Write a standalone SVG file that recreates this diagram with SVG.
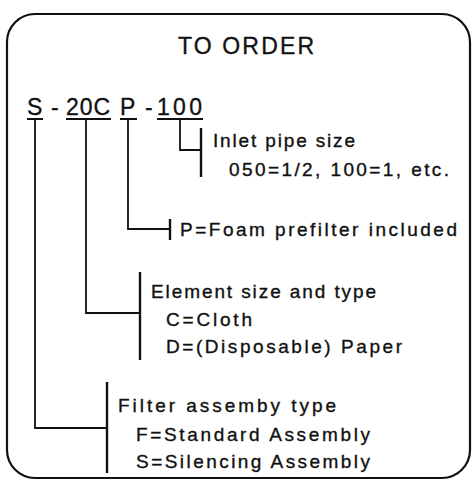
<svg xmlns="http://www.w3.org/2000/svg" width="472" height="483" viewBox="0 0 472 483">
<style>
text{font-family:"Liberation Sans",Arial,sans-serif;fill:#111;stroke:#111;stroke-width:0.35}
.t{font-size:19px}
.c{font-size:23px}
.h{font-size:23px}
.ln{fill:none;stroke:#111;stroke-width:1.8}
.bar{fill:none;stroke:#111;stroke-width:2.4}
</style>
<rect width="472" height="483" fill="#fff"/>
<g id="frame"><rect x="7" y="14" width="463" height="464" rx="28" ry="28" fill="none" stroke="#111" stroke-width="2.2"/></g>
<g id="title"><text class="h" x="178" y="54" textLength="136" lengthAdjust="spacing">TO ORDER</text></g>
<g id="code">
<text class="c" x="27" y="115" textLength="16">S</text>
<text class="c" x="51" y="115">-</text>
<text class="c" x="66" y="115" textLength="44" lengthAdjust="spacing">20C</text>
<text class="c" x="120" y="115" textLength="16">P</text>
<text class="c" x="145" y="115">-</text>
<text class="c" x="157" y="115" textLength="45" lengthAdjust="spacing">100</text>
<path class="ln" d="M27 119H43M66 119H111M120 119H137M157 119H203"/>
</g>
<g id="connectors">
<path class="ln" d="M180 119V150H201"/>
<path class="bar" d="M201 128V177"/>
<path class="ln" d="M128 119V229H170"/>
<path class="bar" d="M170 219V240"/>
<path class="ln" d="M86 119V313H140"/>
<path class="bar" d="M140 272V360"/>
<path class="ln" d="M35 119V428H107"/>
<path class="bar" d="M107 382V473"/>
</g>
<g id="inlet">
<text class="t" x="213" y="147" textLength="142" lengthAdjust="spacing">Inlet pipe size</text>
<text class="t" x="229" y="176" textLength="220" lengthAdjust="spacing">050=1/2, 100=1, etc.</text>
</g>
<g id="prefilter">
<text class="t" x="180" y="236" textLength="277" lengthAdjust="spacing">P=Foam prefilter included</text>
</g>
<g id="element">
<text class="t" x="151" y="298" textLength="225" lengthAdjust="spacing">Element size and type</text>
<text class="t" x="166" y="326" textLength="86" lengthAdjust="spacing">C=Cloth</text>
<text class="t" x="166" y="353" textLength="236" lengthAdjust="spacing">D=(Disposable) Paper</text>
</g>
<g id="assembly">
<text class="t" x="118" y="412" textLength="218" lengthAdjust="spacing">Filter assemby type</text>
<text class="t" x="136" y="441" textLength="234" lengthAdjust="spacing">F=Standard Assembly</text>
<text class="t" x="136" y="468" textLength="234" lengthAdjust="spacing">S=Silencing Assembly</text>
</g>
</svg>
